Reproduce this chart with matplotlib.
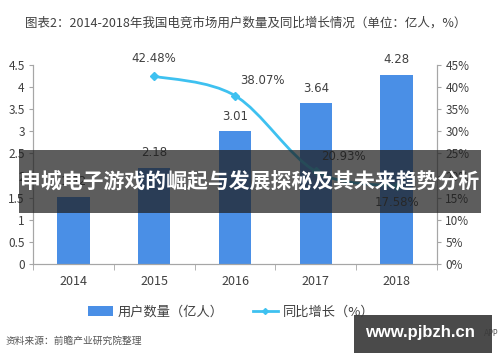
import matplotlib
matplotlib.use("Agg")
import matplotlib.pyplot as plt
from matplotlib.path import Path
from matplotlib.patches import PathPatch, Rectangle
from matplotlib.lines import Line2D
from matplotlib.patches import Patch
import numpy as np

plt.rcParams['font.family'] = ['Noto Sans CJK SC', 'DejaVu Sans']

years = ['2014', '2015', '2016', '2017', '2018']
users = [1.52, 2.18, 3.01, 3.64, 4.28]
growth_years = ['2015', '2016', '2017', '2018']
growth = [42.48, 38.07, 20.93, 17.58]
left_ticks = [0, 0.5, 1, 1.5, 2, 2.5, 3, 3.5, 4, 4.5]
right_ticks = [0, 5, 10, 15, 20, 25, 30, 35, 40, 45]

bar_color = '#4a8fe6'
line_color = '#3ec1f0'
grey = '#404040'
spine_c = '#a6a6a6'

fig = plt.figure(figsize=(5.0, 3.62), dpi=100)
ax = fig.add_axes([0.066, 0.2707, 0.808, 0.5497])
ax2 = ax.twinx()

x = np.arange(len(years))
bars = ax.bar(x, users, width=0.4, color=bar_color, zorder=2)
ax.set_xlim(-0.5, len(years) - 0.5)
ax.set_ylim(0, 4.5)
ax.set_yticks(left_ticks)
ax.set_yticklabels([('%g' % t) for t in left_ticks])
ax.set_xticks(x)
ax.set_xticklabels(years)
ax.set_xticks(np.arange(-0.5, len(years)), minor=True)
ax.tick_params(axis='x', which='major', length=0, pad=8, labelsize=9, colors=grey)
ax.tick_params(axis='x', which='minor', length=4, color=spine_c)
ax.tick_params(axis='y', length=3, color=spine_c, labelsize=8.5, labelcolor=grey, pad=3)

for b, v in zip(bars, users):
    ax.annotate('%.2f' % v, (b.get_x() + b.get_width() / 2, v), xytext=(0, 6),
                textcoords='offset points', ha='center', va='bottom',
                fontsize=8.5, color=grey, family=['DejaVu Sans'])

# smooth line (Catmull-Rom style bezier) through data points
gx = np.array([years.index(y) for y in growth_years], dtype=float)
gy = np.array(growth, dtype=float)
verts = [(gx[0], gy[0])]
codes = [Path.MOVETO]
n = len(gx)
t = 1 / 6.0
for i in range(n - 1):
    p0 = (gx[i - 1], gy[i - 1]) if i > 0 else (gx[i], gy[i])
    p1 = (gx[i], gy[i])
    p2 = (gx[i + 1], gy[i + 1])
    p3 = (gx[i + 2], gy[i + 2]) if i + 2 < n else p2
    c1 = (p1[0] + (p2[0] - p0[0]) * t, p1[1] + (p2[1] - p0[1]) * t)
    c2 = (p2[0] - (p3[0] - p1[0]) * t, p2[1] - (p3[1] - p1[1]) * t)
    verts += [c1, c2, p2]
    codes += [Path.CURVE4] * 3
ax2.add_patch(PathPatch(Path(verts, codes), facecolor='none', edgecolor=line_color, lw=2, zorder=3))
ax2.plot(gx, gy, linestyle='none', marker='D', markersize=4, color=line_color, zorder=4)
ax2.set_ylim(0, 45)
ax2.set_yticks(right_ticks)
ax2.set_yticklabels(['%d%%' % t for t in right_ticks])
ax2.tick_params(axis='y', length=3, color=spine_c, labelsize=8.5, labelcolor=grey, pad=3)

offsets = [(0, 8, 'center', 'bottom'), (4, 6, 'left', 'bottom'), (4, 6, 'left', 'bottom'), (0, -7, 'center', 'top')]
for xi, yi, (dx, dy, ha, va) in zip(gx, gy, offsets):
    ax2.annotate('%.2f%%' % yi, (xi, yi), xytext=(dx, dy), textcoords='offset points',
                 ha=ha, va=va, fontsize=8.5, color=grey, family=['DejaVu Sans'])

for a in (ax, ax2):
    a.spines['top'].set_visible(False)
    for s in ('left', 'right', 'bottom'):
        a.spines[s].set_color(spine_c)
        a.spines[s].set_linewidth(0.8)

# title
fig.text(0.05, 0.937, '图表2：2014-2018年我国电竞市场用户数量及同比增长情况（单位：亿人，%）',
         fontsize=9, color=grey, ha='left', va='center')

# legend
handles = [Patch(facecolor=bar_color, label='用户数量（亿人）'),
           Line2D([0], [0], color=line_color, lw=2, marker='D', markersize=3, label='同比增长（%）')]
fig.legend(handles=handles, loc='center', bbox_to_anchor=(0.462, 0.138), ncol=2, frameon=False,
           fontsize=9.5, handlelength=1.9, handleheight=0.7, handletextpad=0.35,
           columnspacing=2.2, labelcolor=grey)

# source
fig.text(0.012, 0.058, '资料来源：前瞻产业研究院整理', fontsize=7, color='#555555',
         style='italic', ha='left', va='center')

# banner overlay
fig.patches.append(Rectangle((0.038, 1 - 213 / 362), 0.924, 63 / 362, transform=fig.transFigure,
                             facecolor='#1e1e1e', alpha=0.72, zorder=10))
fig.text(0.5, 1 - 182 / 362, '申城电子游戏的崛起与发展探秘及其未来趋势分析', fontsize=15,
         fontweight='bold', color='white', ha='center', va='center', zorder=11)

# watermark overlay
fig.text(0.996, 1 - 334 / 362, 'APP', fontsize=5.5, color='#555555', ha='right', va='center',
         zorder=9, family=['DejaVu Sans'])
fig.patches.append(Rectangle((0.708, 1 - 353 / 362), 0.276, 38 / 362, transform=fig.transFigure,
                             facecolor='#3a3a3a', alpha=0.92, zorder=10))
fig.text(0.84, 1 - 333 / 362, 'www.pjbzh.cn', fontsize=12, fontweight='bold', color='white',
         ha='center', va='center', zorder=11, family=['Liberation Sans', 'DejaVu Sans'])

fig.savefig('out.png', dpi=100)
